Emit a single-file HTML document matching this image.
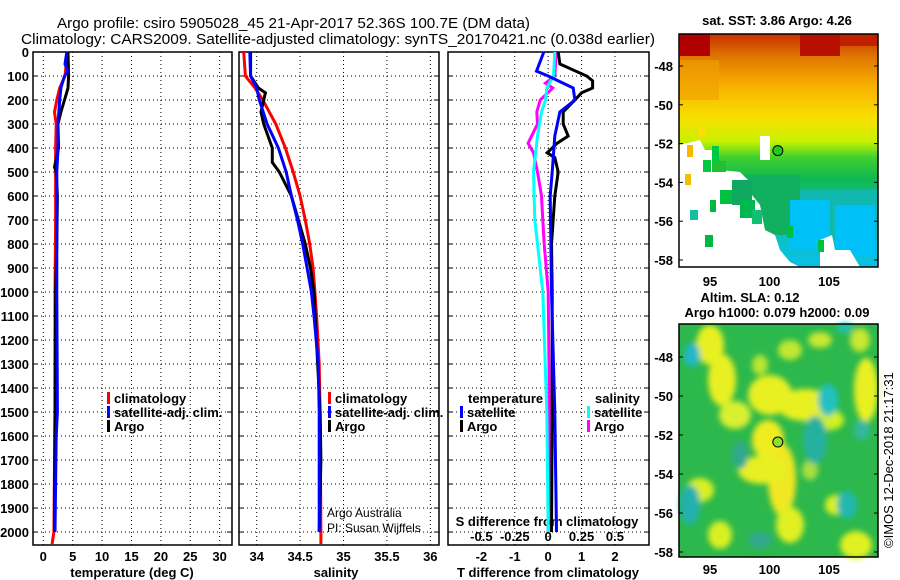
<!DOCTYPE html>
<html><head><meta charset="utf-8"><style>
html,body{margin:0;padding:0;background:#fff;}
svg{display:block;font-family:"Liberation Sans",sans-serif;}
.b{font-weight:bold;font-size:13px;}
</style></head><body>
<svg id="c" width="900" height="580" viewBox="0 0 900 580">
<text x="57" y="28" font-size="15" textLength="473" lengthAdjust="spacingAndGlyphs">Argo profile: csiro 5905028_45 21-Apr-2017 52.36S 100.7E (DM data)</text>
<text x="21" y="44" font-size="15" textLength="634" lengthAdjust="spacingAndGlyphs">Climatology: CARS2009. Satellite-adjusted climatology: synTS_20170421.nc (0.038d earlier)</text>
<g id="g"></g>
</svg>
<script>
// ---- data ----
const depthTicks=[0,100,200,300,400,500,600,700,800,900,1000,1100,1200,1300,1400,1500,1600,1700,1800,1900,2000];
const tempTicks=[0,5,10,15,20,25,30];
const salTicks=[34,34.5,35,35.5,36];
const tdTicks=[-2,-1,0,1,2];
const sdTicks=[-0.5,-0.25,0,0.25,0.5];
const sdTickLabels=['-0.5','-0.25','0','0.25','0.5'];
const latTicks=[-48,-50,-52,-54,-56,-58];
const lonTicks=[95,100,105];

const tClimD=[0,50,100,150,200,250,300,400,500,700,1000,1500,2000,2050];
const tClim=[4.0,3.9,3.7,2.8,2.3,1.9,2.2,2.1,2.1,2.1,2.0,2.0,1.8,1.5];
const tSatD=[0,50,80,100,150,200,300,400,500,1000,1500,1600,2000];
const tSat=[4.0,3.7,4.2,3.6,3.0,2.8,2.5,2.5,2.3,2.3,2.4,2.2,2.0];
const tArgoD=[0,100,150,200,250,300,400,480,500,600,800,1000,1500,2000];
const tArgo=[4.2,4.3,4.2,3.6,3.0,2.5,2.6,1.9,2.2,2.4,2.3,2.1,2.0,1.9];

const sClimD=[0,100,150,200,300,400,500,600,700,800,900,1000,1100,1300,1500,2000,2050];
const sClim=[33.85,33.87,33.98,34.07,34.22,34.33,34.42,34.5,34.56,34.61,34.65,34.67,34.69,34.72,34.73,34.74,34.74];
const sSatD=[0,100,150,200,300,400,500,600,700,800,900,1000,1100,1300,1500,2000];
const sSat=[33.92,33.93,34.0,34.03,34.12,34.25,34.34,34.4,34.47,34.53,34.58,34.63,34.66,34.71,34.72,34.72];
const sArgoD=[0,100,150,170,200,250,300,400,460,500,600,700,800,900,1000,1500,1700,2000];
const sArgo=[33.93,33.93,34.02,34.1,34.08,34.05,34.08,34.18,34.18,34.26,34.4,34.48,34.56,34.62,34.66,34.73,34.74,34.72];

const dTSatD=[0,80,100,150,200,250,350,500,600,1000,1500,2000];
const dTSat=[-0.13,-0.35,0,0.75,0.8,0.35,0.2,0.12,0.06,0.1,0.2,0.25];
const dTArgoD=[0,50,100,120,150,170,200,250,300,350,380,420,440,500,600,800,1000,1500,2000];
const dTArgo=[0.3,0.35,1.15,1.33,1.33,1.0,0.8,0.45,0.45,0.6,0.27,-0.03,0.2,0.3,0.2,0.1,0.12,0.12,0.1];
const dSSatD=[0,100,150,200,250,350,500,700,800,1000,1500,2000];
const dSSat=[0.05,0.04,-0.01,-0.02,-0.05,-0.08,-0.11,-0.1,-0.08,-0.04,-0.01,0.0];
const dSArgoD=[0,100,130,150,200,250,300,380,420,500,600,700,800,1000,1500,2000];
const dSArgo=[0.06,0.05,-0.02,0.035,-0.06,-0.085,-0.08,-0.15,-0.11,-0.08,-0.05,-0.04,-0.03,0.0,0.01,0.0];

// ---- helpers ----
const NS="http://www.w3.org/2000/svg";
const G=document.getElementById('g');
function el(t,a,p){const e=document.createElementNS(NS,t);for(const k in a)e.setAttribute(k,a[k]);(p||G).appendChild(e);return e;}
const Y0=52,Y1=545,DMAX=2054;
const yD=d=>Y0+(Y1-Y0)*d/DMAX;
const P1={x0:33,x1:232,lo:-1.75,hi:32.1};
const P2={x0:239,x1:439,lo:33.796,hi:36.1};
const P3={x0:448,x1:649,lo:-3.0,hi:3.02};
const sx=(P,v)=>P.x0+(P.x1-P.x0)*(v-P.lo)/(P.hi-P.lo);
const sdx=v=>sx(P3,v*4);

function frame(P,name){
  const r=el('rect',{x:P.x0,y:Y0,width:P.x1-P.x0,height:Y1-Y0,fill:'#fff',stroke:'#000','stroke-width':1.5});
  
  
}
function grid(P,xt,fx){
  depthTicks.forEach(d=>{const y=yD(d);const l=el('line',{x1:P.x0,x2:P.x1,y1:y,y2:y,stroke:'#000','stroke-dasharray':'1,3'});
    
    
    el('line',{x1:P.x0,x2:P.x0+5,y1:y,y2:y,stroke:'#000'});el('line',{x1:P.x1-5,x2:P.x1,y1:y,y2:y,stroke:'#000'});});
  xt.forEach(v=>{const x=fx(v);const l=el('line',{x1:x,x2:x,y1:Y0,y2:Y1,stroke:'#000','stroke-dasharray':'1,3'});
    
    });
}
function series(fx,vals,depths,color,name){
  let pts=vals.map((v,i)=>fx(v).toFixed(1)+','+yD(depths[i]).toFixed(1)).join(' ');
  const p=el('polyline',{points:pts,fill:'none',stroke:color,'stroke-width':3,'stroke-linejoin':'miter'});
  
  
}
function txt(x,y,s,a){const t=el('text',Object.assign({x:x,y:y,'class':'b'},a||{}));t.textContent=s;return t;}

// panels
frame(P1,'temperature-panel');grid(P1,tempTicks,v=>sx(P1,v));
frame(P2,'salinity-panel');grid(P2,salTicks,v=>sx(P2,v));
frame(P3,'difference-panel');grid(P3,tdTicks,v=>sx(P3,v));

depthTicks.forEach(d=>{const t=txt(29,yD(d)+5,String(d),{'text-anchor':'end'});
  
  });
tempTicks.forEach(v=>{const t=txt(sx(P1,v),561,String(v),{'text-anchor':'middle'});
  
  });
salTicks.forEach(v=>{const t=txt(sx(P2,v),561,String(v),{'text-anchor':'middle'});
  
  });
tdTicks.forEach(v=>{const t=txt(sx(P3,v),561,String(v),{'text-anchor':'middle'});
  
  });
sdTicks.forEach((v,i)=>{const t=txt(sdx(v),541,sdTickLabels[i],{'text-anchor':'middle'});
  
  });

let t;
t=txt(132,577,'temperature (deg C)',{'text-anchor':'middle'});
t=txt(336,577,'salinity',{'text-anchor':'middle'});
t=txt(548,577,'T difference from climatology',{'text-anchor':'middle'});
t=txt(547,526,'S difference from climatology',{'text-anchor':'middle'});

series(v=>sx(P1,v),tClim,tClimD,'#f00','temp-climatology-line');
series(v=>sx(P1,v),tArgo,tArgoD,'#000','temp-argo-line');
series(v=>sx(P1,v),tSat,tSatD,'#00f','temp-satellite-line');
series(v=>sx(P2,v),sClim,sClimD,'#f00','sal-climatology-line');
series(v=>sx(P2,v),sArgo,sArgoD,'#000','sal-argo-line');
series(v=>sx(P2,v),sSat,sSatD,'#00f','sal-satellite-line');
series(sdx,dSArgo,dSArgoD,'#f0f','s-diff-argo-line');
series(sdx,dSSat,dSSatD,'#0ff','s-diff-satellite-line');
series(v=>sx(P3,v),dTArgo,dTArgoD,'#000','t-diff-argo-line');
series(v=>sx(P3,v),dTSat,dTSatD,'#00f','t-diff-satellite-line');

function leg(x,y,c,s,name){el('rect',{x:x,y:y-11,width:3,height:12,fill:c});const t=txt(x+7,y,s);
  
  }
leg(107,403,'#f00','climatology','legend-climatology');
leg(107,417,'#00f','satellite-adj. clim.','legend-satellite');
leg(107,431,'#000','Argo','legend-argo');
leg(328,403,'#f00','climatology','legend2-climatology');
leg(328,417,'#00f','satellite-adj. clim.','legend2-satellite');
leg(328,431,'#000','Argo','legend2-argo');
t=txt(468,403,'temperature');
t=txt(595,403,'salinity');
leg(460,417,'#00f','satellite','legend-t-satellite');
leg(460,431,'#000','Argo','legend-t-argo');
leg(587,417,'#0ff','satellite','legend-s-satellite');
leg(587,431,'#f0f','Argo','legend-s-argo');
t=el('text',{x:327,y:517,'font-size':12});t.textContent='Argo Australia';
t=el('text',{x:327,y:532,'font-size':12});t.textContent='PI: Susan Wijffels';

// ---- maps ----
const M1={x0:679,x1:878,y0:34,y1:267};
const M2={x0:679,x1:878,y0:324,y1:557};
const lonX=l=>710+(l-95)*11.9;
const lat1=a=>66+(-48-a)*19.4;
const lat2=a=>357+(-48-a)*19.5;

const defs=el('defs',{});
const lg=el('linearGradient',{id:'sst',x1:0,y1:0,x2:0,y2:1},defs);
[['0','#c83000'],['0.1','#e07800'],['0.22','#f8b000'],['0.36','#f8e000'],['0.46','#c8f000'],['0.53','#40d030'],['0.62','#10b850'],['0.75','#10c0a0'],['1','#08c0e8']].forEach(s=>el('stop',{offset:s[0],'stop-color':s[1]},lg));
const fl=el('filter',{id:'bl'},defs);el('feGaussianBlur',{stdDeviation:3},fl);

// map1 SST
const m1=el('g',{});


el('rect',{x:M1.x0,y:M1.y0,width:M1.x1-M1.x0,height:M1.y1-M1.y0,fill:'url(#sst)'},m1);
el('rect',{x:680,y:34,width:30,height:22,fill:'#b00000'},m1);
el('rect',{x:800,y:34,width:40,height:22,fill:'#b81000'},m1);
el('rect',{x:840,y:34,width:38,height:12,fill:'#c02000'},m1);
el('rect',{x:679,y:60,width:40,height:40,fill:'#f0a000',opacity:0.6},m1);
el('rect',{x:700,y:175,width:100,height:60,fill:'#10b060'},m1);
el('rect',{x:800,y:190,width:78,height:50,fill:'#10b8b0'},m1);
el('rect',{x:790,y:200,width:40,height:50,fill:'#00c0f8'},m1);
el('rect',{x:835,y:205,width:40,height:50,fill:'#00c0f8'},m1);
// white missing region lower-left
el('polygon',{points:'679,145 700,140 705,150 712,150 715,160 720,170 740,172 748,180 752,195 760,205 765,230 775,235 780,250 790,262 800,267 679,267',fill:'#fff'},m1);
el('polygon',{points:'760,136 770,136 770,160 760,160',fill:'#fff'},m1);
el('polygon',{points:'820,240 832,235 835,250 850,250 860,267 820,267',fill:'#fff'},m1);
[[698,125,8,12,'#f8e000'],[687,145,6,12,'#f8b800'],[685,174,6,11,'#f0c000'],[712,146,7,17,'#00c840'],[712,161,14,11,'#20c030'],[703,160,8,12,'#00c840'],[710,200,6,12,'#00b840'],[732,180,20,25,'#10a860'],[740,200,15,18,'#00b850'],[752,210,10,14,'#10c070'],[720,190,12,14,'#00c040'],[690,210,8,10,'#10c0a0'],[705,235,8,12,'#00b840'],[787,226,6,12,'#00c040'],[818,240,6,12,'#00c040']].forEach(r=>el('rect',{x:r[0],y:r[1],width:r[2],height:r[3],fill:r[4]},m1));
el('rect',{x:M1.x0,y:M1.y0,width:M1.x1-M1.x0,height:M1.y1-M1.y0,fill:'none',stroke:'#000','stroke-width':1.5},m1);
el('circle',{cx:lonX(100.7),cy:lat1(-52.36),r:5,fill:'#20c820',stroke:'#000'},m1);

// map2 SLA
const m2=el('g',{});


el('rect',{x:M2.x0,y:M2.y0,width:M2.x1-M2.x0,height:M2.y1-M2.y0,fill:'#2cb84c'},m2);
const bg=el('g',{filter:'url(#bl)'},m2);
[[710,345,14,20,'#e8f020'],[722,380,14,26,'#e8f020'],[735,415,16,14,'#d8f030'],[770,395,22,20,'#e8f020'],[805,405,28,16,'#e8f020'],[830,420,14,10,'#d0f020'],[768,440,16,20,'#f0ec20'],[782,480,14,36,'#f0e820'],[762,470,24,14,'#e8f020'],[790,525,14,18,'#e0f020'],[810,470,8,10,'#a8e040'],[866,390,12,32,'#e8f020'],[700,490,14,12,'#d8f020'],[720,535,12,14,'#d8f020'],[856,545,16,14,'#e0f020'],[835,505,10,10,'#d8f020'],[790,350,12,10,'#c0e830'],[820,340,12,8,'#c8e830'],[860,340,10,12,'#c8e830'],[760,365,8,10,'#b8e830']].forEach(e=>el('ellipse',{cx:e[0],cy:e[1],rx:e[2],ry:e[3],fill:e[4]},bg));
[[692,355,8,12,'#20b8c8'],[690,505,10,20,'#20b0b0'],[828,400,10,16,'#20c0c0'],[815,440,12,24,'#28b0a0'],[847,505,10,14,'#20b8b0'],[862,430,8,10,'#30b8a0'],[845,328,8,5,'#20c0b0'],[740,455,8,14,'#30a890'],[760,540,12,8,'#30a890']].forEach(e=>el('ellipse',{cx:e[0],cy:e[1],rx:e[2],ry:e[3],fill:e[4]},bg));
el('rect',{x:M2.x0,y:M2.y0,width:M2.x1-M2.x0,height:M2.y1-M2.y0,fill:'none',stroke:'#000','stroke-width':1.5},m2);
el('circle',{cx:lonX(100.7),cy:lat2(-52.36),r:5,fill:'#90e030',stroke:'#000'},m2);

latTicks.forEach(a=>{
  let t1=txt(673,lat1(a)+5,String(a),{'text-anchor':'end'});
  
  
  let t2=txt(673,lat2(a)+5,String(a),{'text-anchor':'end'});
  
  
  el('line',{x1:M1.x0,x2:M1.x0+4,y1:lat1(a),y2:lat1(a),stroke:'#000'});
  el('line',{x1:M1.x1-4,x2:M1.x1,y1:lat1(a),y2:lat1(a),stroke:'#000'});
  el('line',{x1:M2.x0,x2:M2.x0+4,y1:lat2(a),y2:lat2(a),stroke:'#000'});
  el('line',{x1:M2.x1-4,x2:M2.x1,y1:lat2(a),y2:lat2(a),stroke:'#000'});
});
lonTicks.forEach(l=>{
  let t1=txt(lonX(l),286,String(l),{'text-anchor':'middle'});
  
  
  let t2=txt(lonX(l),574,String(l),{'text-anchor':'middle'});
  
  
});
t=txt(777,25,'sat. SST: 3.86 Argo: 4.26',{'text-anchor':'middle'});
t=txt(750,302,'Altim. SLA: 0.12',{'text-anchor':'middle'});
t=txt(777,317,'Argo h1000: 0.079 h2000: 0.09',{'text-anchor':'middle'});
t=el('text',{x:0,y:0,'font-size':13,transform:'translate(893,548) rotate(-90)'});t.textContent='©IMOS 12-Dec-2018 21:17:31';


</script>
</body></html>
